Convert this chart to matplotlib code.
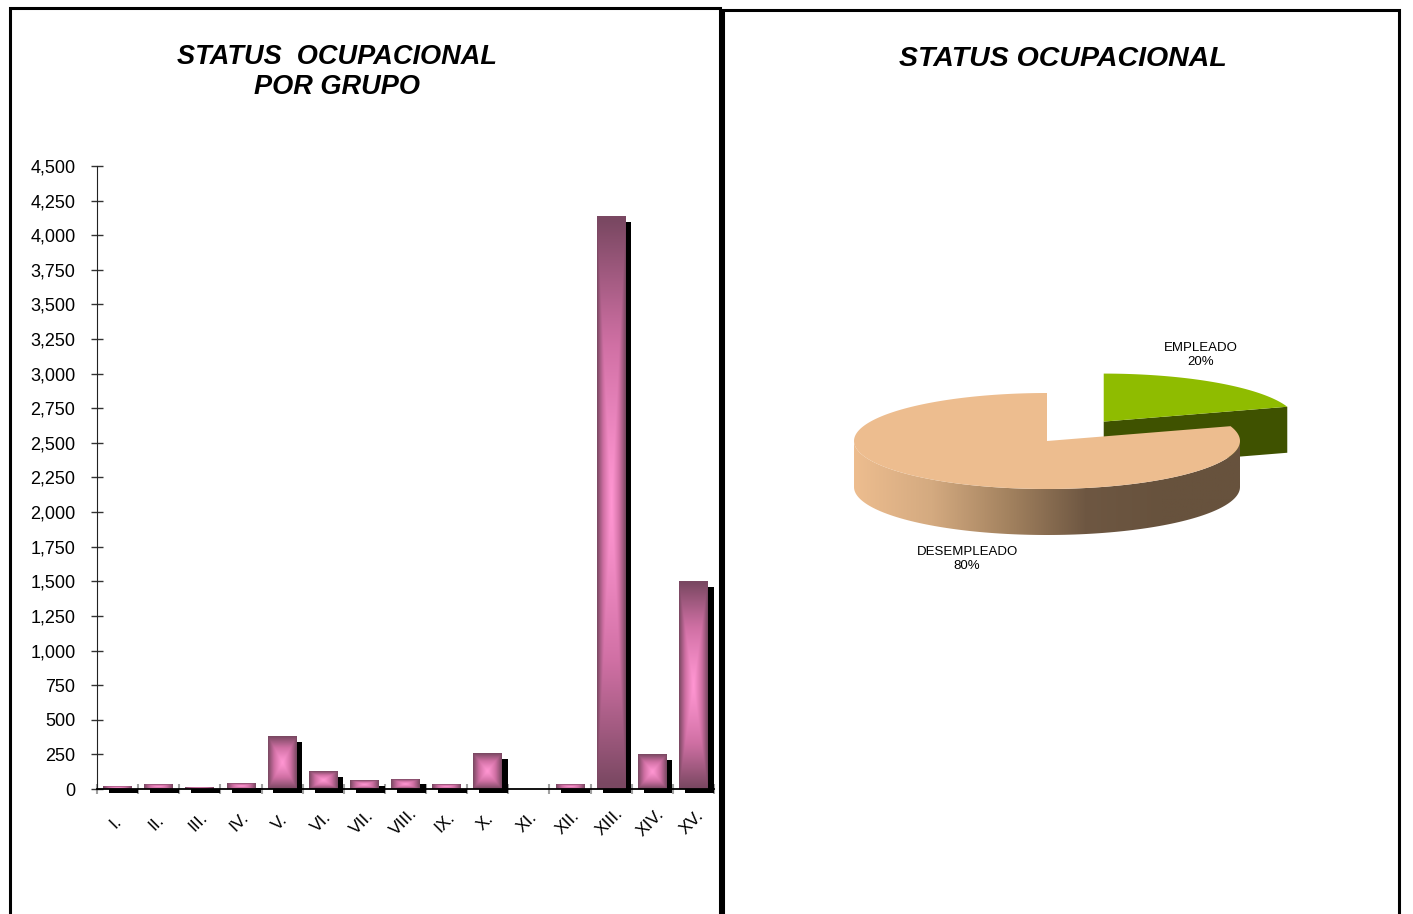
import numpy as np
import matplotlib
matplotlib.use("Agg")
import matplotlib.pyplot as plt
from matplotlib.patches import Rectangle, Polygon
from matplotlib.colors import LinearSegmentedColormap

plt.rcParams['font.family'] = ['Liberation Sans', 'DejaVu Sans']

# Data
grupos = ['I.', 'II.', 'III.', 'IV.', 'V.', 'VI.', 'VII.', 'VIII.', 'IX.', 'X.',
          'XI.', 'XII.', 'XIII.', 'XIV.', 'XV.']
valores = [20, 30, 12, 43, 378, 123, 58, 72, 29, 253, 0, 36, 4135, 246, 1496]
yticks = list(range(0, 4501, 250))

status = ['DESEMPLEADO', 'EMPLEADO']
porcentajes = [80, 20]

fig = plt.figure(figsize=(14.13, 9.14), dpi=100)

# Panel frames
W, H = 1413, 914
def frame(x0, y0, x1, y1):
    fig.add_artist(Rectangle((x0 / W, 1 - y1 / H), (x1 - x0) / W, (y1 - y0) / H,
                             transform=fig.transFigure, fill=False,
                             edgecolor='black', lw=2.2, clip_on=False))
frame(10, 8, 720, 930)
frame(723, 10, 1399, 930)

# ---------------- Bar chart ----------------
ax = fig.add_axes([97 / W, 1 - 789 / H, (714 - 97) / W, (789 - 166) / H])

bar_cmap = LinearSegmentedColormap.from_list('barra', ['#ff96d2', '#d070a4', '#7a4862'])
n = 64
u = np.linspace(-1, 1, n)
U, V = np.meshgrid(u, u)
grad = np.maximum(np.abs(U), np.abs(V)) ** 1.2

bw = 0.7
for i, v in enumerate(valores):
    if v <= 0:
        continue
    x0 = i + 0.5 - bw / 2
    # shadow
    ax.add_patch(Rectangle((x0 + 0.14, -30), bw, max(v - 36, 0) + 30,
                           facecolor='black', edgecolor='none', zorder=2, clip_on=False))
    ax.imshow(grad, cmap=bar_cmap, extent=(x0, x0 + bw, 0, v), aspect='auto',
              origin='lower', zorder=3, interpolation='bilinear', vmin=0, vmax=1)

ax.set_xlim(0, len(grupos))
ax.set_ylim(0, 4500)
ax.set_yticks(yticks)
ax.set_yticklabels([f'{t:,}' for t in yticks], fontsize=13)
ax.tick_params(axis='y', direction='inout', length=9, width=1, color='#333333', pad=11)
ax.set_xticks(np.arange(len(grupos) + 1))
ax.set_xticklabels([])
ax.tick_params(axis='x', direction='inout', length=7, width=1.5, color='#a0a0a0')
for i, g in enumerate(grupos):
    ax.text(i + 0.45, -240, g, rotation=45, ha='center', va='center', fontsize=12.5)
for s in ['top', 'right']:
    ax.spines[s].set_visible(False)
ax.spines['left'].set_color('#222222')
ax.spines['bottom'].set_linewidth(1.3)
ax.spines['bottom'].set_zorder(4)

fig.text(337 / W, 1 - 72 / H, 'STATUS  OCUPACIONAL\nPOR GRUPO', ha='center', va='center',
         fontsize=19.5, fontweight='bold', fontstyle='italic', linespacing=1.25)

# ---------------- 3D pie ----------------
fig.text(1063 / W, 1 - 59 / H, 'STATUS OCUPACIONAL', ha='center', va='center',
         fontsize=20.5, fontweight='bold', fontstyle='italic')

pax = fig.add_axes([0, 0, 1, 1])
pax.axis('off')

cx, cy = 1047, 441
rx, ry, depth = 193, 48, 46
start = 90.0
angles = []
a = start
for p in porcentajes:
    a2 = a + 360 * p / sum(porcentajes)
    angles.append((a, a2))
    a = a2

def rim(c, th, dz=0):
    t = np.radians(th)
    return c[0] + rx * np.cos(t), c[1] - ry * np.sin(t) + dz

# empleado slice (exploded)
a0, a1 = angles[1]
mid = np.radians((a0 + a1) / 2)
ce = (cx + 0.5 * rx * np.cos(mid), cy - 0.5 * ry * np.sin(mid))
p_rim = rim(ce, a0)
pax.add_patch(Polygon([ce, p_rim, (p_rim[0], p_rim[1] + depth), (ce[0], ce[1] + depth)],
                      closed=True, facecolor='#3f5200', edgecolor='none', zorder=1))
th = np.linspace(a0, a1, 60)
pts = [ce] + [rim(ce, t) for t in th]
pax.add_patch(Polygon(pts, closed=True, facecolor='#8fbc00', edgecolor='none', zorder=2))

# desempleado slice
d0, d1 = angles[0]
c = (cx, cy)
th = np.linspace(180, 360, 120)
top = [rim(c, t) for t in th]
bot = [rim(c, t, depth) for t in th[::-1]]
wall = Polygon(top + bot, closed=True, facecolor='none', edgecolor='none', zorder=3)
pax.add_patch(wall)
wall_cmap = LinearSegmentedColormap.from_list('pared', ['#edbd8f', '#d4aa80', '#a3825f', '#6e5742', '#67523d', '#67523d'])
gx = np.linspace(0, 1, 256)[None, :]
im = pax.imshow(np.repeat(gx, 2, axis=0), cmap=wall_cmap, aspect='auto',
                extent=(cx - rx, cx + rx, cy + ry + depth, cy - ry), zorder=3)
im.set_clip_path(wall)
th = np.linspace(d0, d1, 200)
pts = [c] + [rim(c, t) for t in th]
pax.add_patch(Polygon(pts, closed=True, facecolor='#edbd8f', edgecolor='none', zorder=4))
pax.set_xlim(0, W)
pax.set_ylim(H, 0)

pax.text(1201, 355, 'EMPLEADO\n20%', ha='center', va='center', fontsize=9.5, linespacing=1.2)
pax.text(967, 559, 'DESEMPLEADO\n80%', ha='center', va='center', fontsize=9.5, linespacing=1.2)

fig.savefig('out.png', dpi=100)
